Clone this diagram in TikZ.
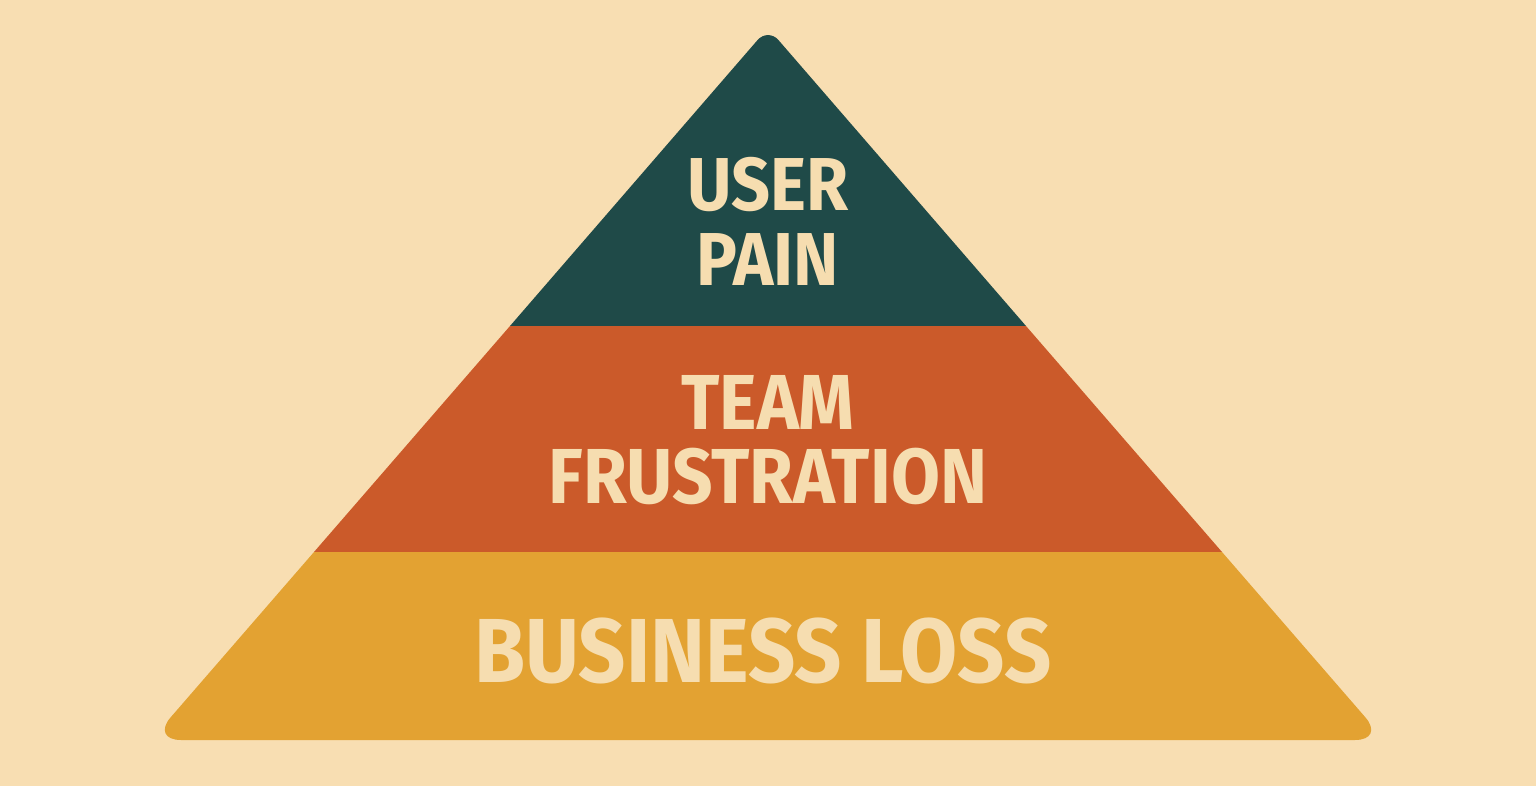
\documentclass[tikz,border=0pt]{standalone}
\usepackage{fontspec}
\setmainfont{Fira Sans}[FakeStretch=0.91]
\usetikzlibrary{positioning}
\definecolor{sandbg}{HTML}{F8DEB2}
\definecolor{painteal}{HTML}{1F4A48}
\definecolor{teamorange}{HTML}{CB5A2A}
\definecolor{lossyellow}{HTML}{E3A232}
\definecolor{creamtext}{HTML}{F6DDB0}

\begin{document}
\begin{tikzpicture}[
		x=1pt, y=-1pt,
		lbl/.style={text=creamtext, align=center, font=\bfseries\fontsize{75}{75}\selectfont, inner sep=0pt},
		]
		\useasboundingbox (0,0) rectangle (1536,786);
		\fill[sandbg] (0,0) rectangle (1536,786);
		
		% layers, top to bottom
		\fill[painteal] (510,326) [rounded corners=16pt] -- (768,28) [sharp corners] -- (1026,326) -- cycle;
		\fill[teamorange] (510,326) -- (1026,326) -- (1222,552) -- (314,552) -- cycle;
		\fill[lossyellow] (314,552) -- (1222,552) [rounded corners=30pt] -- (1385,740) -- (151,740) [sharp corners] -- cycle;
		
		\node[lbl] (pain) at (768,221) {USER\\PAIN};
		\node[lbl, font=\bfseries\fontsize{78}{74}\selectfont] (team) at (768,440) {TEAM\\FRUSTRATION};
		\node[lbl, font=\bfseries\fontsize{91}{91}\selectfont] (loss) at (763,651) {BUSINESS LOSS};
	\end{tikzpicture}
\end{document}
